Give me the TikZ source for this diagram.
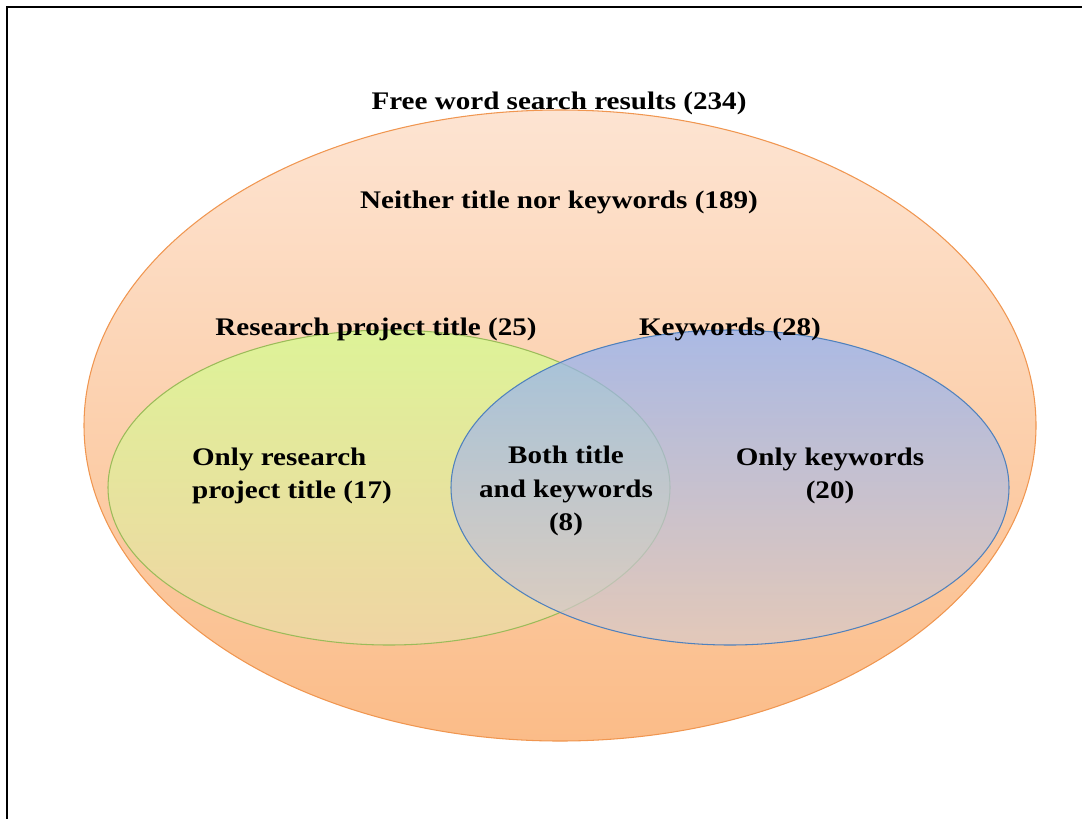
\documentclass[tikz,border=0pt]{standalone}
\usepackage{fontspec}
\setmainfont{Liberation Serif}[FakeStretch=1.15]
\definecolor{outerline}{RGB}{240,150,80}
\definecolor{outertop}{RGB}{253,228,210}
\definecolor{outerbot}{RGB}{251,188,136}
\definecolor{greenline}{RGB}{155,187,89}
\definecolor{greentop}{RGB}{210,255,140}
\definecolor{greenbot}{RGB}{236,220,170}
\definecolor{blueline}{RGB}{79,129,189}
\definecolor{bluetop}{RGB}{140,175,245}
\definecolor{bluebot}{RGB}{218,203,200}
\def\setfont{\fontsize{14.4}{19}\selectfont\bfseries}

\begin{document}
\begin{tikzpicture}[x=0.02cm,y=-0.02cm]
		\tikzstyle{lbl}=[font=\setfont,inner sep=0pt]
		\tikzstyle{set}=[line width=0.6pt,fill opacity=0.72]
		\useasboundingbox (0,0) rectangle (1082,819);

			% Frame
		\draw[line width=1.4pt] (1082,7) -- (7,7) -- (7,819);

			% Draw the whole search result set
		\shadedraw[draw=outerline,line width=0.6pt,top color=outertop,bottom color=outerbot]
		(560,425.5) ellipse [x radius=476, y radius=315.5];

			% Draw the title set and the keyword set
		\shadedraw[set,draw=greenline,top color=greentop,bottom color=greenbot]
		(389,487.5) ellipse [x radius=281, y radius=157.5];
		\shadedraw[set,draw=blueline,top color=bluetop,bottom color=bluebot]
		(730,487.5) ellipse [x radius=279, y radius=157.5];

			% Annotate the sets
		\node[lbl] (total) at (559,103) {Free word search results (234)};
		\node[lbl] (neither) at (559,202) {Neither title nor keywords (189)};
		\node[lbl] (title) at (376,329) {Research project title (25)};
		\node[lbl] (keywords) at (730,329) {Keywords (28)};
		\node[lbl,align=left] (onlytitle) at (292,476) {Only research\\project title (17)};
		\node[lbl,align=center] (both) at (566,491) {Both title\\and keywords\\(8)};
		\node[lbl,align=center] (onlykeywords) at (830,476) {Only keywords\\(20)};
		\end{tikzpicture}
\end{document}
